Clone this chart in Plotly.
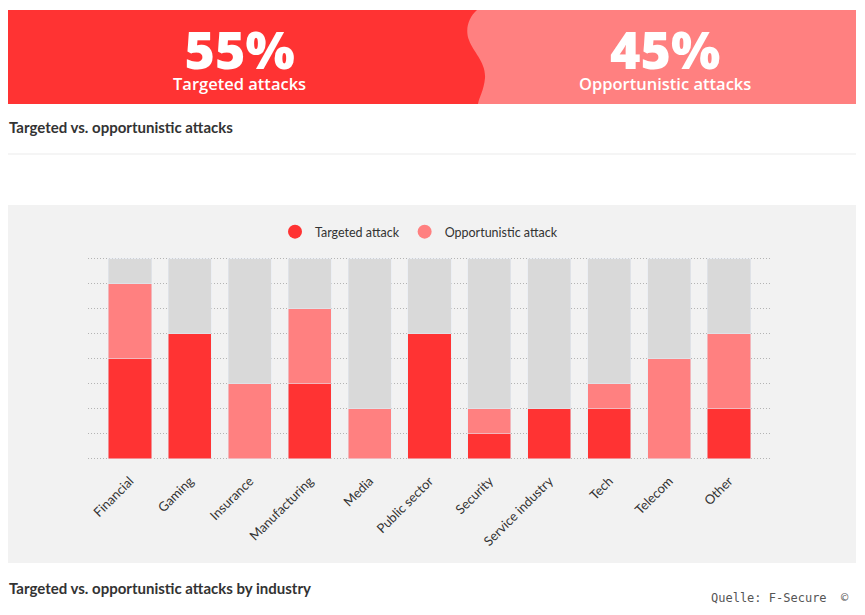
import plotly.graph_objects as go

# the page puts the figure 8px in from the top-left corner
OFF = 8
W, H = 865 - 2 * OFF, 615 - 2 * OFF

industries = ["Financial", "Gaming", "Insurance", "Manufacturing", "Media", "Public sector",
              "Security", "Service industry", "Tech", "Telecom", "Other"]
targeted = [4, 5, 0, 3, 0, 5, 1, 2, 2, 0, 2]
opportunistic = [3, 0, 3, 3, 2, 0, 1, 0, 1, 4, 3]
scale_max = 8

share_labels = ["55%", "45%"]
share_names = ["Targeted attacks", "Opportunistic attacks"]

RED = "#FF3333"
PINK = "#FF8080"
GREY_BAR = "#D9D9D9"
PANEL = "#F2F2F2"


def px(x):
    return (x - OFF) / W


def py(y):
    return 1 - (y - OFF) / H


def path_from_pixels(cmds):
    # cmds: list of (letter, [(x, y), ...]) in page pixels -> paper path string
    parts = []
    for letter, pts in cmds:
        coords = " ".join(f"{px(x):.5f},{py(y):.5f}" for x, y in pts)
        parts.append(f"{letter} {coords}")
    return " ".join(parts) + " Z"


remaining = [scale_max - t - o for t, o in zip(targeted, opportunistic)]

fig = go.Figure()
fig.add_trace(go.Bar(x=industries, y=targeted, marker_color=RED, showlegend=False,
                     width=0.72, hoverinfo="x+y"))
fig.add_trace(go.Bar(x=industries, y=opportunistic, marker_color=PINK, showlegend=False,
                     width=0.72, hoverinfo="x+y"))
fig.add_trace(go.Bar(x=industries, y=remaining, marker_color=GREY_BAR, showlegend=False,
                     width=0.72, hoverinfo="skip"))

# legend entries with round markers
fig.add_trace(go.Scatter(x=[None], y=[None], mode="markers", name="Targeted attack",
                         marker=dict(color=RED, size=14, symbol="circle")))
fig.add_trace(go.Scatter(x=[None], y=[None], mode="markers", name="Opportunistic attack",
                         marker=dict(color=PINK, size=14, symbol="circle")))

shapes = [
    # banner
    dict(type="rect", xref="paper", yref="paper", x0=px(7), x1=px(856), y0=py(104), y1=py(10),
         fillcolor=RED, line_width=0, layer="below"),
    dict(type="path", xref="paper", yref="paper", fillcolor=PINK, line_width=0, layer="below",
         path=path_from_pixels([
             ("M", [(477, 10)]),
             ("C", [(468, 18), (465, 30), (469, 40)]),
             ("C", [(473, 52), (486, 62), (485, 78)]),
             ("C", [(484, 90), (479, 98), (478, 104)]),
             ("L", [(856, 104)]),
             ("L", [(856, 10)]),
         ])),
    # divider
    dict(type="line", xref="paper", yref="paper", x0=px(7), x1=px(856), y0=py(154), y1=py(154),
         line=dict(color="#EBEBEB", width=1)),
    # chart panel
    dict(type="rect", xref="paper", yref="paper", x0=px(6), x1=px(856), y0=py(563), y1=py(205),
         fillcolor=PANEL, line_width=0, layer="below"),
]

# big share figure and its caption as one two-line text
banner_font = dict(family="Open Sans, sans-serif", size=16.5, color="white", weight=600)


def banner_text(value, name):
    return f"<span style='font-size:52px;font-weight:800'>{value}</span><br>{name}"


title_font = dict(family="Lato, sans-serif", size=15, color="#333333")
annotations = [
    dict(text=banner_text(share_labels[0], share_names[0]), x=px(239), y=py(11),
         yanchor="top", font=banner_font),
    dict(text=banner_text(share_labels[1], share_names[1]), x=px(665), y=py(11),
         yanchor="top", font=banner_font),
    dict(text="<b>Targeted vs. opportunistic attacks</b>", x=px(7), y=py(127), xanchor="left",
         font=title_font),
    dict(text="<b>Targeted vs. opportunistic attacks by industry</b>", x=px(7), y=py(588),
         xanchor="left", font=title_font),
    dict(text="Quelle: F-Secure  ©", x=px(851), y=py(598), xanchor="right",
         font=dict(family="DejaVu Sans Mono, monospace", size=12, color="#555555")),
]
for a in annotations:
    a.setdefault("xref", "paper")
    a.setdefault("yref", "paper")
    a.setdefault("xanchor", "center")
    a.setdefault("yanchor", "middle")
    a["showarrow"] = False

fig.update_layout(
    width=W, height=H,
    margin=dict(l=0, r=0, t=0, b=0),
    paper_bgcolor="white",
    plot_bgcolor="rgba(0,0,0,0)",
    barmode="stack",
    bargap=0.28,
    shapes=shapes,
    annotations=annotations,
    font=dict(family="Lato, sans-serif", size=12, color="#333333"),
    legend=dict(orientation="h", traceorder="normal", x=px(419), xanchor="center",
                y=py(232), yanchor="middle", bgcolor="rgba(0,0,0,0)", itemwidth=30,
                font=dict(family="Lato, sans-serif", size=12.5, color="#333333")),
    xaxis=dict(domain=[px(88), px(771)], range=[-0.7, 10.7], tickangle=-45, showgrid=False,
               showline=False, ticks="", ticklabelstandoff=9,
               tickfont=dict(family="Lato, sans-serif", size=13, color="#333333")),
    yaxis=dict(domain=[py(461), py(256)], range=[-0.1, scale_max + 0.1], dtick=1,
               showticklabels=False, showgrid=True, gridcolor="#B4B4B4", griddash="1px,2px",
               gridwidth=1, zeroline=False, showline=False),
)

fig.write_html("out.html")
